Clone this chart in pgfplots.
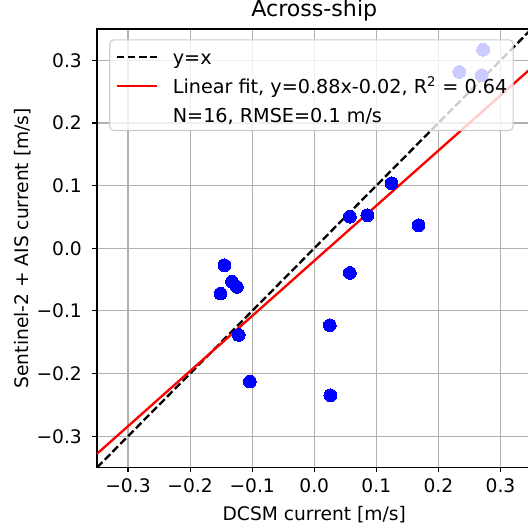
\documentclass[border=0pt]{standalone}
\usepackage{fontspec}
\setmainfont{DejaVu Sans}
\usepackage{pgfplots}
\pgfplotsset{compat=1.18}
\definecolor{gridgray}{RGB}{176,176,176}
\definecolor{legframe}{RGB}{204,204,204}
\newcommand{\tfont}{\fontsize{14}{16}\selectfont}
\newcommand{\lfont}{\fontsize{14.4}{16}\selectfont}
\newcommand{\ls}{\rule[-2pt]{0pt}{15.66pt}}
\begin{document}
\begin{tikzpicture}
\begin{axis}[
  at={(0pt,0pt)}, anchor=south west,
  scale only axis, width=326pt, height=329pt,
  xmin=-0.35, xmax=0.35, ymin=-0.35, ymax=0.35,
  xtick={-0.3,-0.2,-0.1,0,0.1,0.2,0.3},
  ytick={-0.3,-0.2,-0.1,0,0.1,0.2,0.3},
  xticklabels={−0.3,−0.2,−0.1,0.0,0.1,0.2,0.3},
  yticklabels={−0.3,−0.2,−0.1,0.0,0.1,0.2,0.3},
  xtick pos=bottom, ytick pos=left,
  tick align=outside, major tick length=3.65pt,
  tick style={black, line width=0.83pt},
  grid=major, major grid style={gridgray, line width=0.83pt},
  axis line style={black, line width=0.83pt},
  ticklabel style={font=\tfont, inner sep=0pt},
  xticklabel style={anchor=north, yshift=-4.5pt},
  yticklabel style={anchor=east, xshift=-7.5pt},
  title={Across-ship},
  title style={font=\fontsize{16.6}{19}\selectfont, at={(axis description cs:0.5,1.0114)}, anchor=base, inner sep=0pt},
  xlabel={DCSM current [m/s]},
  ylabel={Sentinel-2 + AIS current [m/s]},
  every axis x label/.style={at={(axis description cs:0.5,-0.1198)}, anchor=base, inner sep=0pt, font=\tfont},
  every axis y label/.style={at={(axis description cs:-0.1577,0.5)}, rotate=90, anchor=base, inner sep=0pt, font=\tfont},
  legend image code/.code={\draw[#1, line width=1.75pt, sharp corners] (0pt,5.25pt) -- (30pt,5.25pt);},
  legend style={at={(axis description cs:0,1)}, anchor=north west, xshift=9.2pt, yshift=-7.7pt,
    font=\lfont, draw=legframe, line width=0.83pt, rounded corners=3pt,
    fill=white, fill opacity=0.8, draw opacity=1, text opacity=1,
    inner xsep=4.3pt, inner ysep=4.59pt, row sep=6.68pt,
    nodes={inner sep=0pt},
    cells={anchor=base west},
    /tikz/every odd column/.append style={column sep=11.25pt}},
]
\addplot[black, line width=1.75pt, dash pattern=on 5.8pt off 2.5pt] coordinates {(-0.35,-0.35) (0.35,0.35)};
\addlegendentry{\ls y=x}
\addplot[red, line width=1.75pt] coordinates {(-0.35,-0.328) (0.35,0.288)};
\addlegendentry{\ls Linear fit, y=0.88x-0.02, R\textsuperscript{2} = 0.64}
\addplot[only marks, mark=*, mark size=4.8pt, blue, mark options={fill=blue, draw=blue, line width=0pt}, forget plot] table {
x y
0.1245 0.1037
0.0574 0.0505
0.0856 0.0527
0.168 0.0367
0.0574 -0.0394
-0.1447 -0.0271
-0.1324 -0.0532
-0.1245 -0.0617
-0.151 -0.0723
-0.1218 -0.1383
0.025 -0.1229
-0.1037 -0.2128
0.026 -0.2346
0.272 0.317
0.2335 0.2814
0.2697 0.276
};
\addlegendimage{draw=none, draw opacity=0}
\addlegendentry{\ls N=16, RMSE=0.1 m/s}
\end{axis}
\pgfresetboundingbox
\path (-72.75pt,-47.6pt) rectangle (323.25pt,350.75pt);
\end{tikzpicture}
\end{document}
